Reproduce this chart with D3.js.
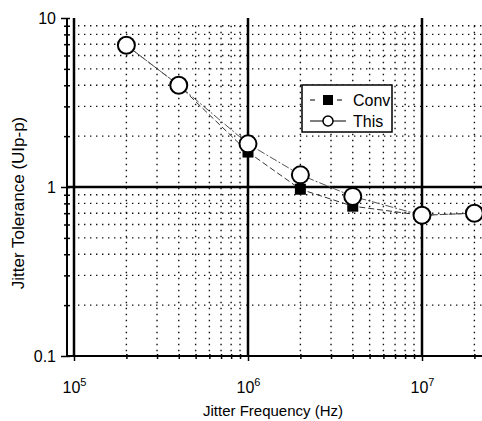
<!DOCTYPE html>
<html>
<head>
<meta charset="utf-8">
<script src="https://cdn.jsdelivr.net/npm/d3@7"></script>
<style>
body { margin: 0; background: #fff; }
text { font-family: "Liberation Sans", Arial, sans-serif; fill: #000; }
</style>
</head>
<body>
<svg id="chart" width="482" height="421"></svg>
<script>
// data
var freqs = [2e5, 4e5, 1e6, 2e6, 4e6, 1e7, 2e7];
var thisVals = [6.9, 4.0, 1.8, 1.18, 0.88, 0.68, 0.70];
var convVals = [6.9, 4.0, 1.61, 0.97, 0.77, 0.68, 0.70];
var seriesNames = ["Conv", "This"];
var yMajor = [0.1, 1, 10];
var xMajor = [1e5, 1e6, 1e7];

var svg = d3.select("#chart");

var plotTop = 18, plotBottom = 356, axisX = 67, plotRight = 490;

var x = d3.scaleLog().domain([1e5, 1e7]).range([74, 422]);
var y = d3.scaleLog().domain([0.1, 10]).range([356, 18]);

var clip = svg.append("clipPath").attr("id", "clip")
	.append("rect").attr("x", axisX).attr("y", plotTop - 2)
	.attr("width", 482 - axisX).attr("height", plotBottom - plotTop + 4);

var g = svg.append("g").attr("clip-path", "url(#clip)");

// minor tick positions
var xMinor = [], yMinor = [];
[1e5, 1e6, 1e7].forEach(function(d){
	for (var k = 2; k <= 9; k++) xMinor.push(d * k);
});
[0.1, 1].forEach(function(d){
	for (var k = 2; k <= 9; k++) yMinor.push(d * k);
});

// dotted grid
g.selectAll(".vminor").data(xMinor).enter().append("line")
	.attr("x1", d => x(d)).attr("x2", d => x(d))
	.attr("y1", y(9)).attr("y2", plotBottom)
	.style("stroke", "#111").style("stroke-width", 1.4)
	.style("stroke-dasharray", "1.4,4.6");
g.selectAll(".hminor").data(yMinor).enter().append("line")
	.attr("x1", x(1e5) + 4).attr("x2", plotRight)
	.attr("y1", d => y(d)).attr("y2", d => y(d))
	.style("stroke", "#111").style("stroke-width", 1.4)
	.style("stroke-dasharray", "1.4,4.6");

// major grid
g.selectAll(".vmajor").data(xMajor).enter().append("line")
	.attr("x1", d => x(d)).attr("x2", d => x(d))
	.attr("y1", plotTop).attr("y2", plotBottom)
	.style("stroke", "#000").style("stroke-width", 2.5);
g.append("line")
	.attr("x1", axisX).attr("x2", plotRight)
	.attr("y1", y(1)).attr("y2", y(1))
	.style("stroke", "#000").style("stroke-width", 2.5);

// series lines
var line = d3.line().x(d => x(d[0])).y(d => y(d[1]));
g.append("path")
	.datum(d3.zip(freqs, convVals))
	.attr("d", line)
	.style("fill", "none").style("stroke", "#333").style("stroke-width", 1)
	.style("stroke-dasharray", "6,3");
g.append("path")
	.datum(d3.zip(freqs, thisVals))
	.attr("d", line)
	.style("fill", "none").style("stroke", "#555").style("stroke-width", 1)
	.style("stroke-dasharray", "8,2,2,2");

// markers
g.selectAll(".sq").data(d3.zip(freqs, convVals)).enter().append("rect")
	.attr("x", d => x(d[0]) - 5.5).attr("y", d => y(d[1]) - 5.5)
	.attr("width", 11).attr("height", 11)
	.style("fill", "#000");
g.selectAll(".ci").data(d3.zip(freqs, thisVals)).enter().append("circle")
	.attr("cx", d => x(d[0])).attr("cy", d => y(d[1]))
	.attr("r", 8.5)
	.style("fill", "#fff").style("stroke", "#000").style("stroke-width", 2);

// y axis
var yAxisG = svg.append("g").attr("transform", "translate(" + axisX + ",0)");
yAxisG.append("g")
	.call(d3.axisLeft(y).tickValues(yMajor).tickSize(6)
		.tickFormat(d => d === 0.1 ? "0.1" : String(d)))
	.call(a => a.select(".domain").remove())
	.selectAll("text").style("font-size", "16px").attr("dx", "-2px");
yAxisG.append("g")
	.call(d3.axisLeft(y).tickValues(yMinor).tickSize(3).tickFormat(""))
	.call(a => a.select(".domain").remove());
yAxisG.append("g")
	.call(d3.axisRight(y).tickValues(yMinor.concat(yMajor)).tickSize(3).tickFormat(""))
	.call(a => a.select(".domain").remove());
yAxisG.selectAll("line").style("stroke-width", 1.5);
yAxisG.append("line")
	.attr("x1", 0).attr("x2", 0).attr("y1", plotTop).attr("y2", plotBottom)
	.style("stroke", "#000").style("stroke-width", 2);

// x axis
var xAxisG = svg.append("g").attr("transform", "translate(0," + plotBottom + ")");
var xAx = xAxisG.append("g")
	.call(d3.axisBottom(x).tickValues(xMajor).tickSize(5).tickFormat(""))
	.call(a => a.select(".domain").remove());
xAx.selectAll(".tick text")
	.attr("y", 26)
	.style("font-size", "16px")
	.each(function(d){
		var t = d3.select(this);
		t.append("tspan").text("10");
		t.append("tspan").text(Math.round(Math.log10(d)))
			.attr("dy", "-7").style("font-size", "11px");
	});
xAxisG.append("g")
	.call(d3.axisBottom(x).tickValues(xMinor.filter(d => d < 3e7)).tickSize(3).tickFormat(""))
	.call(a => a.select(".domain").remove());
xAxisG.append("g")
	.call(d3.axisTop(x).tickValues(xMinor.filter(d => d < 3e7)).tickSize(2).tickFormat(""))
	.call(a => a.select(".domain").remove());
xAxisG.selectAll("line").style("stroke-width", 1.5);
xAxisG.append("line")
	.attr("x1", axisX).attr("x2", 482).attr("y1", 0).attr("y2", 0)
	.style("stroke", "#000").style("stroke-width", 2);

// axis titles
svg.append("text")
	.attr("x", 273).attr("y", 416)
	.attr("text-anchor", "middle")
	.style("font-size", "15px")
	.text("Jitter Frequency (Hz)");
svg.append("text")
	.attr("transform", "translate(24,203) rotate(-90)")
	.attr("text-anchor", "middle")
	.style("font-size", "17px")
	.text("Jitter Tolerance (UIp-p)");

// legend
var lg = svg.append("g").attr("transform", "translate(302,85)");
lg.append("rect").attr("width", 90).attr("height", 47)
	.style("fill", "#fff").style("stroke", "#000").style("stroke-width", 1.5);
var rows = lg.selectAll(".row").data(seriesNames).enter().append("g")
	.attr("transform", (d, i) => "translate(0," + (15 + i * 21) + ")");
rows.append("line")
	.attr("x1", 8).attr("x2", 44).attr("y1", 0).attr("y2", 0)
	.style("stroke", "#000").style("stroke-width", 1)
	.style("stroke-dasharray", d => d === "Conv" ? "5,9,8,5" : null);
rows.filter(d => d === "Conv").append("rect")
	.attr("x", 21).attr("y", -5).attr("width", 10).attr("height", 10)
	.style("fill", "#000");
rows.filter(d => d === "This").append("circle")
	.attr("cx", 26).attr("cy", 0).attr("r", 5)
	.style("fill", "#fff").style("stroke", "#000").style("stroke-width", 1.5);
rows.append("text")
	.attr("x", 51).attr("y", 6)
	.style("font-size", "16px")
	.text(d => d);
</script>
</body>
</html>
